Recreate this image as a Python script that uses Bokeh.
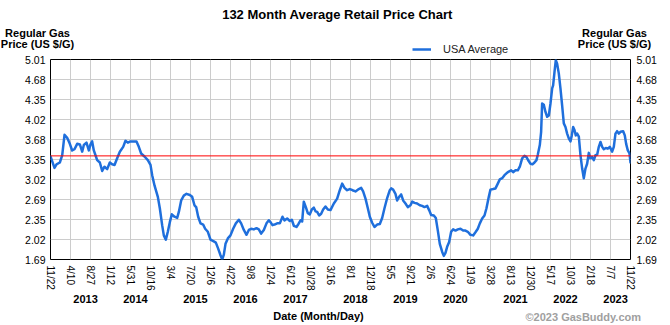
import math
import pandas as pd
from bokeh.plotting import figure
from bokeh.layouts import column
from bokeh.models import (Range1d, LinearAxis, FixedTicker, Span, Legend, LegendItem)
from bokeh.core.properties import value
from bokeh.embed import file_html
from bokeh.resources import INLINE

# ---------------- data ----------------
start_date = "2012-11-22"
end_date = "2023-11-22"
total_months = 132

# months since start (11/22/2012) and USA average regular gas price ($/gal)
months = [
    0, 0.91, 1.37, 2.12, 2.66, 3.19, 3.79, 4.40, 4.93, 5.46, 6.07, 6.68, 7.21, 7.59,
    8.19, 8.72, 9.10, 9.48, 9.86, 10.24, 10.62, 11.23, 11.76, 12.29, 12.90, 13.50,
    14.03, 14.57, 15.17, 15.78, 16.54, 17.07, 17.60, 18.21, 18.97, 19.57, 20.10,
    20.63, 21.39, 22.15, 22.76, 23.14, 23.67, 24.43, 24.88, 25.41, 25.79, 26.25,
    26.70, 27.16, 27.61, 28.22, 28.83, 29.21, 29.74, 30.34, 30.95, 31.71, 32.24,
    32.77, 33.15, 33.61, 34.14, 34.74, 35.20, 35.81, 36.41, 37.17, 37.63, 38.16,
    38.69, 39.07, 39.45, 39.83, 40.36, 40.96, 41.57, 42.18, 42.86, 43.39, 44.00,
    44.61, 45.14, 45.67, 46.27, 46.88, 47.41, 47.94, 48.55, 49.16, 49.69, 50.07,
    50.52, 50.98, 51.58, 52.19, 52.80, 53.25, 53.86, 54.47, 54.92, 55.38, 55.98,
    56.44, 56.90, 57.27, 57.65, 58.11, 58.56, 59.02, 59.47, 59.93, 60.31, 60.69,
    61.14, 61.60, 62.05, 62.58, 63.12, 63.72,
    64.48, 65.24, 65.84, 66.38, 66.91, 67.51, 68.12, 68.73, 69.41, 70.17, 70.70,
    71.15, 71.69, 72.22, 72.67, 73.20, 73.73, 74.34, 74.95, 75.48, 76.01, 76.62,
    77.22, 77.53, 77.98, 78.51, 78.89, 79.35, 79.80, 80.26, 80.79, 81.32, 81.93,
    82.31, 82.84, 83.44, 84.05, 84.58, 85.11, 85.72, 86.17, 86.63, 87.24, 87.69,
    88.15, 88.60, 89.13, 89.51, 89.89, 90.27, 90.73, 91.18, 91.64, 92.17, 92.70,
    93.31, 93.91, 94.44, 94.97, 95.58, 96.19, 96.79, 97.25, 97.71, 98.24, 98.77,
    99.22, 99.75, 100.13, 100.74, 101.27, 101.80, 102.26, 102.79, 103.32, 103.77,
    104.31, 104.84, 105.29, 105.82, 106.35, 106.81, 107.34, 107.87, 108.33, 108.86,
    109.24, 109.69, 110.15, 110.60, 110.90, 111.36, 111.66, 111.89, 112.27, 112.65,
    113.03, 113.41, 113.79, 114.17, 114.39, 114.70, 115.00, 115.30, 115.68, 116.06,
    116.44, 116.82, 117.20, 117.58, 117.96, 118.34, 118.64, 118.95, 119.25, 119.55,
    119.86, 120.24, 120.62, 121.00, 121.37, 121.75, 122.13, 122.51, 122.89, 123.27,
    123.65, 124.03, 124.41, 124.79, 125.17, 125.55, 125.93, 126.38, 126.84, 127.29,
    127.82, 128.20, 128.58, 128.96, 129.34, 129.72, 130.33, 130.70, 131.01, 131.39,
    131.77, 132.0,
]
prices = [
    3.40, 3.21, 3.27, 3.30, 3.42, 3.76, 3.71, 3.61, 3.50, 3.52, 3.61, 3.60, 3.48, 3.59,
    3.63, 3.50, 3.60, 3.65, 3.50, 3.42, 3.34, 3.30, 3.16, 3.23, 3.19, 3.30,
    3.27, 3.26, 3.37, 3.48, 3.56, 3.66, 3.63, 3.65, 3.65, 3.65, 3.56,
    3.45, 3.40, 3.34, 3.26, 3.09, 2.92, 2.73, 2.54, 2.26, 2.09, 2.02,
    2.15, 2.31, 2.44, 2.40, 2.38, 2.48, 2.67, 2.75, 2.78, 2.76, 2.73,
    2.59, 2.56, 2.40, 2.29, 2.27, 2.20, 2.15, 2.02, 1.99, 1.97, 1.87,
    1.76, 1.69, 1.77, 1.95, 2.04, 2.09, 2.20, 2.29, 2.35, 2.29, 2.18,
    2.10, 2.18, 2.20, 2.19, 2.21, 2.19, 2.12, 2.18, 2.29, 2.34, 2.31,
    2.26, 2.27, 2.29, 2.29, 2.40, 2.34, 2.37, 2.33, 2.35, 2.25, 2.23,
    2.28, 2.34, 2.32, 2.65, 2.56, 2.46, 2.44, 2.52, 2.55, 2.49, 2.48,
    2.42, 2.45, 2.52, 2.57, 2.52, 2.51,
    2.62, 2.70, 2.84, 2.95, 2.88, 2.84, 2.86, 2.84, 2.82, 2.86, 2.88,
    2.82, 2.70, 2.54, 2.40, 2.30, 2.23, 2.27, 2.28, 2.38, 2.54, 2.71,
    2.84, 2.87, 2.85, 2.78, 2.67, 2.73, 2.77, 2.67, 2.62, 2.56, 2.59,
    2.65, 2.63, 2.62, 2.59, 2.58, 2.56, 2.58, 2.51, 2.43, 2.42, 2.38,
    2.17, 1.95, 1.82, 1.75, 1.80, 1.90, 1.98, 2.15, 2.19, 2.17, 2.19,
    2.20, 2.17, 2.17, 2.15, 2.10, 2.09, 2.15, 2.20, 2.29, 2.37, 2.42,
    2.54, 2.73, 2.85, 2.86, 2.87, 2.95, 3.02, 3.04, 3.09, 3.12,
    3.15, 3.17, 3.14, 3.17, 3.17, 3.23, 3.37, 3.41, 3.39, 3.32,
    3.28, 3.27, 3.30, 3.34, 3.43, 3.59, 3.81, 4.28, 4.26, 4.14,
    4.06, 4.08, 4.28, 4.53, 4.58, 4.80, 5.00, 4.94, 4.78, 4.53,
    4.25, 3.95, 3.89, 3.78, 3.70, 3.65, 3.75, 3.89, 3.84, 3.75,
    3.78, 3.73, 3.42, 3.20, 3.04, 3.20, 3.28, 3.46, 3.37, 3.39,
    3.34, 3.42, 3.43, 3.56, 3.64, 3.56, 3.52, 3.54, 3.53, 3.56,
    3.48, 3.56, 3.78, 3.82, 3.78, 3.81, 3.82, 3.75, 3.61, 3.50,
    3.45, 3.30,
]
average_price = 3.41

tick_dates = [
    "2012-11-22", "2013-04-10", "2013-08-27", "2014-01-12", "2014-05-31",
    "2014-10-16", "2015-03-04", "2015-07-20", "2015-12-06", "2016-04-22",
    "2016-09-08", "2017-01-24", "2017-06-12", "2017-10-28", "2018-03-16",
    "2018-08-01", "2018-12-18", "2019-05-05", "2019-09-21", "2020-02-06",
    "2020-06-24", "2020-11-09", "2021-03-28", "2021-08-13", "2021-12-30",
    "2022-05-17", "2022-10-03", "2023-02-18", "2023-07-07", "2023-11-22",
]
years = ["2013", "2014", "2015", "2016", "2017", "2018", "2019", "2020",
         "2021", "2022", "2023"]
year_label_months = [7.97, 19.34, 33.0, 44.38, 55.76, 69.41, 80.79, 92.17,
                     105.83, 117.21, 128.59]

y_min, y_max = 1.69, 5.01
y_tick_labels = ["1.69", "2.02", "2.35", "2.69", "3.02", "3.35", "3.68",
                 "4.02", "4.35", "4.68", "5.01"]

title_text = "132 Month Average Retail Price Chart"
y_title_lines = ["Regular Gas", "Price (US $/G)"]
series_name = "USA Average"
x_title_text = "Date (Month/Day)"
credit_text = "\u00a92023 GasBuddy.com"

# ---------------- derived ----------------
t0 = pd.Timestamp(start_date)
span_days = (pd.Timestamp(end_date) - t0).days
x_ticks = [(pd.Timestamp(d) - t0).days / span_days * total_months for d in tick_dates]
x_tick_text = [f"{pd.Timestamp(d).month}/{pd.Timestamp(d).day}" for d in tick_dates]
n_y = len(y_tick_labels)
y_ticks = [y_min + i * (y_max - y_min) / (n_y - 1) for i in range(n_y)]

# ---------------- layout constants ----------------
W = 670
FONT = "Liberation Sans"
LINE_COLOR = "#1f6fdc"
HEAD_H = 55          # header strip (canvas y 0..55)
MAIN_TOP = 4         # main figure: frame top at 59
FRAME_H = 200        # frame 59..259
MAIN_BOTTOM = 48     # axes strip 259..307
FOOT_H = 325 - HEAD_H - MAIN_TOP - FRAME_H - MAIN_BOTTOM   # 18


def blank_fig(height, y0, y1):
    f = figure(width=W, height=height, output_backend="svg", toolbar_location=None,
               x_range=Range1d(0, W), y_range=Range1d(y1, y0),
               min_border=0, min_border_left=0, min_border_right=0,
               min_border_top=0, min_border_bottom=0,
               x_axis_location=None, y_axis_location=None,
               background_fill_color="white", border_fill_color="white")
    f.outline_line_color = None
    f.grid.grid_line_color = None
    f.frame_align = False
    return f


# ---------------- header ----------------
head = blank_fig(HEAD_H, 0, HEAD_H)
head.text(x=[337], y=[14], text=[title_text], text_font=value(FONT),
          text_font_size=value("13px"), text_font_style="bold",
          text_align="center", text_baseline="middle", text_color="black")
head.text(x=[37, 37, 614, 614], y=[32, 43, 32, 43],
          text=y_title_lines + y_title_lines, text_font=value(FONT),
          text_font_size=value("11px"), text_font_style="bold",
          text_align="center", text_baseline="middle", text_color="black")
# legend key renderer (no visible data of its own)
sample = head.line(x=[float("nan")], y=[float("nan")], line_color=LINE_COLOR,
                   line_width=2.5)
legend = Legend(items=[LegendItem(label=series_name, renderers=[sample])],
                location=(412, -0.5), padding=0, margin=0, spacing=0,
                glyph_width=19, glyph_height=14, label_height=14,
                label_standoff=12, border_line_color=None,
                background_fill_alpha=0, label_text_font=FONT,
                label_text_font_size="11px", label_text_color="#222222")
head.add_layout(legend, "center")

# ---------------- main chart ----------------
p = figure(width=W, height=MAIN_TOP + FRAME_H + MAIN_BOTTOM, output_backend="svg",
           toolbar_location=None,
           x_range=Range1d(0, total_months), y_range=Range1d(y_min, y_max),
           min_border_left=50, min_border_right=40,
           min_border_top=MAIN_TOP, min_border_bottom=MAIN_BOTTOM,
           background_fill_color="white", border_fill_color="white")
p.frame_align = False
p.outline_line_color = "black"
p.outline_line_width = 1

xa = p.xaxis[0]
xa.ticker = FixedTicker(ticks=x_ticks)
xa.major_label_overrides = {t: s for t, s in zip(x_ticks, x_tick_text)}
xa.major_label_orientation = -math.pi / 2
xa.major_tick_in = 0
xa.major_tick_out = 0
xa.minor_tick_in = 0
xa.minor_tick_out = 0
xa.axis_line_color = None
xa.major_label_standoff = 6
xa.major_label_text_font = FONT
xa.major_label_text_font_size = "10px"
xa.major_label_text_color = "black"

yr = LinearAxis(ticker=FixedTicker(ticks=year_label_months),
                major_label_overrides={m: y for m, y in zip(year_label_months, years)},
                major_tick_in=0, major_tick_out=0, minor_tick_in=0, minor_tick_out=0,
                axis_line_color=None, major_label_standoff=1,
                major_label_text_font=FONT, major_label_text_font_size="11px",
                major_label_text_font_style="bold", major_label_text_color="black")
p.add_layout(yr, "below")


def style_y(ax, standoff):
    ax.ticker = FixedTicker(ticks=y_ticks)
    ax.major_label_overrides = {t: s for t, s in zip(y_ticks, y_tick_labels)}
    ax.major_tick_in = 0
    ax.major_tick_out = 0
    ax.minor_tick_in = 0
    ax.minor_tick_out = 0
    ax.axis_line_color = None
    ax.major_label_standoff = standoff
    ax.major_label_text_font = FONT
    ax.major_label_text_font_size = "10.5px"
    ax.major_label_text_color = "black"


style_y(p.yaxis[0], 5)
ra = LinearAxis()
style_y(ra, 6)
p.add_layout(ra, "right")

p.xgrid.grid_line_color = "#cccccc"
p.ygrid.grid_line_color = "#cccccc"

p.add_layout(Span(location=average_price, dimension="width",
                  line_color="#ff0000", line_width=1))
p.line(months, prices, line_color=LINE_COLOR, line_width=2.5,
       line_join="round", line_cap="round")

# ---------------- footer ----------------
foot_y0 = HEAD_H + MAIN_TOP + FRAME_H + MAIN_BOTTOM
foot = blank_fig(FOOT_H, foot_y0, foot_y0 + FOOT_H)
foot.text(x=[318], y=[315], text=[x_title_text], text_font=value(FONT),
          text_font_size=value("11px"), text_font_style="bold",
          text_align="center", text_baseline="middle", text_color="black")
foot.text(x=[525], y=[316], text=[credit_text], text_font=value(FONT),
          text_font_size=value("11px"), text_font_style="bold",
          text_align="left", text_baseline="middle", text_color="#a0a0a0")

layout = column(head, p, foot, spacing=0)
open("out.html", "w").write(file_html(layout, INLINE))
